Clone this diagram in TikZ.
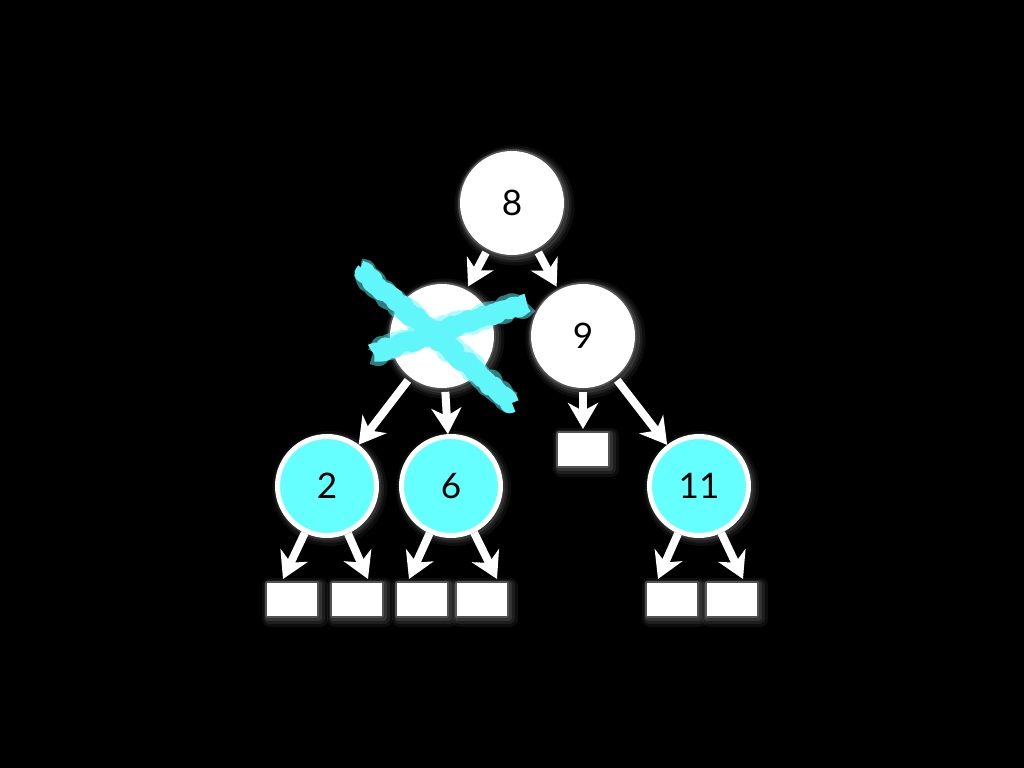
\documentclass[tikz,border=0pt]{standalone}
\usepackage{fontspec}
\setmainfont{Lato}
\usetikzlibrary{positioning, arrows.meta, decorations.pathmorphing}

\definecolor{chalkcyan}{RGB}{96,246,250}
\definecolor{leafcyan}{RGB}{102,255,255}

\begin{document}
\begin{tikzpicture}[
                > = {Stealth[length=2.6mm, width=3mm, inset=0.8mm]}, % arrow head style
                on grid, node distance = 13.3mm, % centre to centre
                line width = 0.8mm, white % line style
            ]

            \tikzstyle{every node}=[font=\fontsize{10}{12}\selectfont, text=black]
            \tikzstyle{glow}=[line join=round,
            preaction={draw=white, draw opacity=0.05, line width=1.6mm,
            transform canvas={xshift=0.25mm, yshift=-0.25mm}},
            preaction={draw=white, draw opacity=0.07, line width=1.1mm,
            transform canvas={xshift=0.2mm, yshift=-0.2mm}},
            preaction={draw=white, draw opacity=0.1, line width=0.7mm,
            transform canvas={xshift=0.15mm, yshift=-0.15mm}},
            preaction={draw=white, draw opacity=0.15, line width=0.35mm}]
            \tikzstyle{full}=[circle, fill=white, minimum size=10.4mm, inner sep=0pt, glow]
            \tikzstyle{leaf}=[circle, fill=leafcyan, draw=white, line width=0.5mm,
            minimum size=9.9mm, inner sep=0pt, glow]
            \tikzstyle{nil}=[rectangle, fill=white, minimum width=5mm, minimum height=3.3mm,
            inner sep=0pt, glow]
            \tikzstyle{chalk}=[draw=chalkcyan, line width=1.9mm, line cap=butt, line join=round,
            decorate, decoration={random steps, segment length=0.35mm, amplitude=0.25mm}]
            \tikzstyle{dust}=[draw=chalkcyan, draw opacity=0.5, line width=2.3mm, line join=round,
            decorate, decoration={random steps, segment length=0.5mm, amplitude=0.35mm}]

            \fill[black] (0,0) rectangle (10.24,-7.68);

            \node (n8) [full] at (5.12,-2.03) {8};
            \node (nx) [full, below left=13.3mm and 7mm of n8] {};
            \node (n9) [full, below right=13.3mm and 7.1mm of n8] {9};
            \node (n2) [leaf, below left=15mm and 11.5mm of nx] {2};
            \node (n6) [leaf, below right=15mm and 0.9mm of nx] {6};
            \node (n11) [leaf, below right=15mm and 11.6mm of n9] {11};

            \node (b0) [nil, below=11.35mm of n9] {};
            \node (b1) [nil, below left=11.35mm and 3.5mm of n2] {};
            \node (b2) [nil, below right=11.35mm and 3mm of n2] {};
            \node (b3) [nil, below left=11.35mm and 2.9mm of n6] {};
            \node (b4) [nil, below right=11.35mm and 3.1mm of n6] {};
            \node (b5) [nil, below left=11.35mm and 2.7mm of n11] {};
            \node (b6) [nil, below right=11.35mm and 3.3mm of n11] {};

            \path[->] (n8) edge (nx) edge (n9);
            \path[->] (nx) edge (n2) edge (n6);
            \path[->] (n9) edge (b0) edge (n11);
            \path[->] (n2) edge ([xshift=-0.9mm]b1.north) edge ([xshift=1.1mm]b2.north);
            \path[->] (n6) edge ([xshift=-1.3mm]b3.north) edge ([xshift=1.5mm]b4.north);
            \path[->] (n11) edge ([xshift=-1.4mm]b5.north) edge ([xshift=1.1mm]b6.north);

            % the crossed out node
            \draw[dust] ([shift={(-8.2mm,6.6mm)}]nx.center) -- ([shift={(7mm,-6.7mm)}]nx.center);
            \draw[dust] ([shift={(-6.9mm,-1.7mm)}]nx.center) -- ([shift={(8.5mm,3.3mm)}]nx.center);
            \draw[chalk] ([shift={(-8.2mm,6.6mm)}]nx.center) -- ([shift={(7mm,-6.7mm)}]nx.center);
            \draw[chalk] ([shift={(-6.9mm,-1.7mm)}]nx.center) -- ([shift={(8.5mm,3.3mm)}]nx.center);

        \end{tikzpicture}
\end{document}
